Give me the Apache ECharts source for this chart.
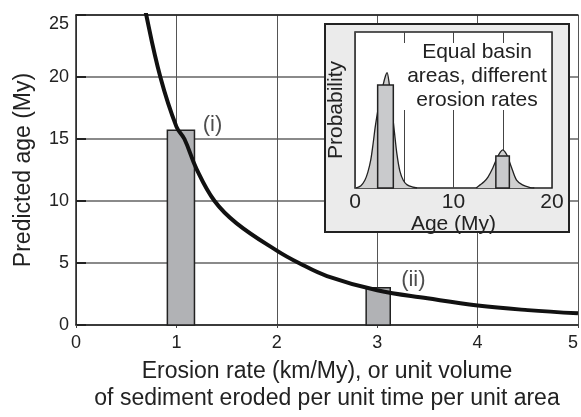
<!DOCTYPE html>
<html>
<head>
<meta charset="utf-8">
<script src="https://cdn.jsdelivr.net/npm/echarts@6/dist/echarts.min.js"></script>
<style>
  html, body { margin: 0; padding: 0; background: #fff; }
  #chart { width: 581px; height: 417px; }
</style>
</head>
<body>
<div id="chart"></div>
<script>
// main plot: predicted age vs erosion rate
var curveRate = [0.66, 0.70, 0.84, 1.0, 1.08, 1.2, 1.38, 1.6, 2.0, 2.22, 2.5, 3.0, 3.5, 4.0, 4.5, 5.0]
var curveAge = [27, 25, 20, 16.0, 15, 12.6, 10, 8.2, 6.0, 5.0, 3.95, 2.8, 2.15, 1.57, 1.2, 0.94]

var barLeft = [0.91, 2.89]
var barRight = [1.18, 3.13]
var barAge = [15.7, 3.0]

var tagRate = [1.36, 3.36]
var tagAge = [16.1, 3.6]
var tagText = ['(i)', '(ii)']

// inset: probability vs age
var peak1Age = [0.1, 0.6, 1.0, 1.3, 1.6, 1.85, 2.05, 2.3, 2.55, 2.85, 3.1, 3.25, 3.45, 3.72, 4.0, 4.25, 4.55, 4.9, 5.3, 5.9, 6.3]
var peak1Prob = [0, 0.015, 0.05, 0.1, 0.18, 0.29, 0.39, 0.49, 0.57, 0.66, 0.72, 0.74, 0.68, 0.52, 0.36, 0.22, 0.11, 0.05, 0.02, 0.005, 0]
var peak2Age = [12.3, 12.7, 13.1, 13.5, 14.0, 14.4, 14.75, 15.0, 15.25, 15.5, 15.9, 16.4, 17.0, 17.8, 18.2]
var peak2Prob = [0, 0.02, 0.04, 0.07, 0.13, 0.19, 0.23, 0.245, 0.23, 0.2, 0.13, 0.05, 0.02, 0.003, 0]

var insetBarLeft = [2.3, 14.3]
var insetBarRight = [3.89, 15.67]
var insetBarProb = [0.66, 0.205]

var font = "'Liberation Sans', Arial, Helvetica, sans-serif"
var ink = '#222'

function zip (a, b) {
  return a.map(function (v, i) { return [v, b[i]] })
}

function boxes (l, r, h) {
  return l.map(function (v, i) { return [v, r[i], h[i]] })
}

function makeBars (fill) {
  return function (params, api) {
    var p0 = api.coord([api.value(0), 0])
    var p1 = api.coord([api.value(1), api.value(2)])
    return {
      type: 'rect',
      shape: { x: p0[0], y: p1[1], width: p1[0] - p0[0], height: p0[1] - p1[1] },
      style: { fill: fill, stroke: ink, lineWidth: 1.5 }
    }
  }
}

var chart = echarts.init(document.getElementById('chart'))

chart.setOption({
  animation: false,
  textStyle: { fontFamily: font, color: ink },
  grid: [
    { left: 76, right: 1, top: 15, bottom: 84 },
    {
      left: 355, right: 29, top: 32, bottom: 229,
      show: true, backgroundColor: '#fff', borderColor: ink, borderWidth: 1.5, z: 3
    }
  ],
  xAxis: [
    {
      type: 'value', gridIndex: 0, min: 0, max: 5, interval: 1,
      name: 'Erosion rate (km/My), or unit volume\nof sediment eroded per unit time per unit area',
      nameLocation: 'middle', nameGap: 33,
      nameTextStyle: { fontSize: 23, lineHeight: 27, color: ink, fontFamily: font },
      axisLine: { lineStyle: { color: ink, width: 1.5 } },
      axisTick: { show: true, length: 3, lineStyle: { color: '#444' } },
      axisLabel: { fontSize: 18, color: ink, margin: 9, alignMaxLabel: 'right', fontFamily: font },
      splitLine: { show: true, lineStyle: { color: '#555', width: 1 } }
    },
    {
      type: 'value', gridIndex: 0, min: 0, max: 5, position: 'top',
      axisLine: { show: true, lineStyle: { color: ink, width: 1.5 } },
      axisTick: { show: false }, axisLabel: { show: false }, splitLine: { show: false }
    },
    {
      type: 'value', gridIndex: 1, min: 0, max: 20, interval: 5, z: 3,
      name: 'Age (My)', nameLocation: 'middle', nameGap: 20,
      nameTextStyle: { fontSize: 21, color: ink, fontFamily: font },
      axisLine: { show: false },
      axisTick: { show: false },
      axisLabel: {
        fontSize: 21, color: ink, margin: 4, fontFamily: font,
        formatter: function (v) { return v % 10 === 0 ? v : '' }
      },
      splitLine: { show: true, lineStyle: { color: '#444', width: 1 } }
    }
  ],
  yAxis: [
    {
      type: 'value', gridIndex: 0, min: 0, max: 25, interval: 5,
      name: 'Predicted age (My)', nameLocation: 'middle', nameGap: 41,
      nameTextStyle: { fontSize: 23, color: ink, fontFamily: font },
      axisLine: { show: true, lineStyle: { color: ink, width: 1.5 } },
      axisTick: { show: true, inside: true, length: 10, lineStyle: { color: ink, width: 2 } },
      axisLabel: { fontSize: 18, color: ink, margin: 7, fontFamily: font, verticalAlignMaxLabel: 'top' },
      splitLine: { show: true, lineStyle: { color: '#8a8a8a', width: 2 } }
    },
    {
      type: 'value', gridIndex: 1, min: 0, max: 1, z: 3,
      name: 'Probability', nameLocation: 'middle', nameGap: 8,
      nameTextStyle: { fontSize: 21, color: ink, fontFamily: font },
      axisLine: { show: false }, axisTick: { show: false },
      axisLabel: { show: false }, splitLine: { show: false }
    }
  ],
  graphic: [
    {
      type: 'rect', z: 1,
      shape: { x: 325, y: 24, width: 244, height: 208 },
      style: { fill: '#ebebeb', stroke: ink, lineWidth: 2 }
    },
    {
      type: 'rect', z: 5,
      shape: { x: 402, y: 43, width: 148, height: 67 },
      style: { fill: '#fff' }
    },
    {
      type: 'text', z: 6, x: 477, y: 40,
      style: {
        text: 'Equal basin\nareas, different\nerosion rates',
        font: '21px ' + font, lineHeight: 24,
        textAlign: 'center', fill: ink
      }
    }
  ],
  series: [
    {
      type: 'custom', xAxisIndex: 0, yAxisIndex: 0,
      renderItem: makeBars('#b1b2b5'),
      encode: { x: [0, 1], y: 2 },
      data: boxes(barLeft, barRight, barAge)
    },
    {
      type: 'line', xAxisIndex: 0, yAxisIndex: 0, z: 3,
      smooth: 0.4, symbol: 'none', clip: true,
      lineStyle: { color: '#111', width: 4 },
      data: zip(curveRate, curveAge)
    },
    {
      type: 'scatter', xAxisIndex: 0, yAxisIndex: 0, symbolSize: 0,
      label: {
        show: true, position: 'inside', fontSize: 22, color: ink, fontFamily: font,
        formatter: function (p) { return tagText[p.dataIndex] }
      },
      data: zip(tagRate, tagAge)
    },
    {
      type: 'line', xAxisIndex: 2, yAxisIndex: 1, z: 4,
      smooth: 0.3, symbol: 'none',
      lineStyle: { color: ink, width: 1.3 },
      areaStyle: { color: '#d0d0d0', opacity: 1 },
      data: zip(peak1Age, peak1Prob)
    },
    {
      type: 'line', xAxisIndex: 2, yAxisIndex: 1, z: 4,
      smooth: 0.3, symbol: 'none',
      lineStyle: { color: ink, width: 1.3 },
      areaStyle: { color: '#d0d0d0', opacity: 1 },
      data: zip(peak2Age, peak2Prob)
    },
    {
      type: 'custom', xAxisIndex: 2, yAxisIndex: 1, z: 5,
      renderItem: makeBars('#c9cacc'),
      encode: { x: [0, 1], y: 2 },
      data: boxes(insetBarLeft, insetBarRight, insetBarProb)
    }
  ]
})
</script>
</body>
</html>
